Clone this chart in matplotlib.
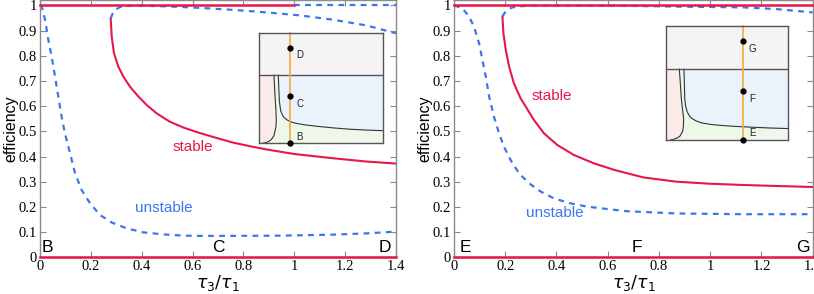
import numpy as np
import matplotlib
matplotlib.use("Agg")
import matplotlib.pyplot as plt

# ---- datos ----
# panel izquierdo (B, C, D)
stable_L_x = [0.278, 0.282, 0.291, 0.308, 0.328, 0.354, 0.387, 0.419, 0.459, 0.511, 0.564, 0.629,
              0.70, 0.76, 0.83, 0.891, 1.0, 1.153, 1.285, 1.4]
stable_L_y = [0.948, 0.876, 0.81, 0.757, 0.717, 0.677, 0.638, 0.605, 0.571, 0.538, 0.515, 0.493,
              0.472, 0.455, 0.44, 0.428, 0.41, 0.393, 0.38, 0.372]
unst_lo_L_x = [0.0, 0.007, 0.02, 0.033, 0.046, 0.059, 0.072, 0.085, 0.098, 0.118, 0.138, 0.164, 0.197,
               0.236, 0.282, 0.341, 0.406, 0.485, 0.564, 0.629, 0.76, 0.957, 1.153, 1.285, 1.4]
unst_lo_L_y = [1.0, 0.995, 0.942, 0.862, 0.796, 0.717, 0.638, 0.558, 0.492, 0.413, 0.333, 0.267, 0.214,
               0.168, 0.138, 0.115, 0.099, 0.091, 0.086, 0.085, 0.085, 0.086, 0.09, 0.095, 0.102]
unst_hi_L_x = [0.278, 0.285, 0.295, 0.31, 0.328, 0.393, 0.524, 0.629, 0.76, 0.891, 1.022, 1.153, 1.285, 1.4]
unst_hi_L_y = [0.948, 0.966, 0.981, 0.991, 0.997, 0.999, 0.995, 0.99, 0.982, 0.972, 0.96, 0.943, 0.92, 0.889]
unst_top_L_x = [1.0, 1.4]
unst_top_L_y = [1.0, 1.0]
stable_top_L_x = [0.0, 1.0]

# panel derecho (E, F, G)
stable_R_x = [0.189, 0.193, 0.202, 0.215, 0.234, 0.26, 0.28, 0.312, 0.351, 0.403, 0.468, 0.546, 0.625,
              0.739, 0.869, 0.999, 1.129, 1.259, 1.4]
stable_R_y = [0.955, 0.889, 0.823, 0.757, 0.69, 0.631, 0.598, 0.545, 0.492, 0.446, 0.406, 0.373, 0.347,
              0.317, 0.3, 0.292, 0.287, 0.283, 0.279]
unst_lo_R_x = [0.0, 0.033, 0.059, 0.078, 0.098, 0.111, 0.124, 0.137, 0.156, 0.176, 0.195, 0.221, 0.254,
               0.293, 0.338, 0.39, 0.455, 0.52, 0.611, 0.674, 0.869, 1.129, 1.4]
unst_lo_R_y = [1.0, 0.988, 0.955, 0.915, 0.849, 0.783, 0.717, 0.638, 0.558, 0.492, 0.439, 0.386, 0.333,
               0.294, 0.261, 0.234, 0.214, 0.201, 0.19, 0.183, 0.174, 0.171, 0.171]
unst_hi_R_x = [0.189, 0.195, 0.202, 0.214, 0.228, 0.286, 0.39, 0.611, 0.869, 1.129, 1.259, 1.4]
unst_hi_R_y = [0.955, 0.966, 0.975, 0.985, 0.992, 0.999, 0.999, 0.999, 0.995, 0.992, 0.985, 0.972]
stable_top_R_x = [0.0, 1.4]

# insets: fronteras de las regiones (coordenadas del inset, 0..1)
divider_y = 0.62
pg_L_x = [0.121, 0.13, 0.137, 0.14, 0.136, 0.121, 0.1, 0.081, 0.055, 0.027]
pg_L_y = [0.62, 0.42, 0.297, 0.2, 0.145, 0.07, 0.035, 0.018, 0.005, 0.0]
gb_L_x = [0.156, 0.16, 0.165, 0.175, 0.188, 0.202, 0.23, 0.27, 0.32, 0.377, 0.466, 0.6, 0.736, 0.87, 1.0]
gb_L_y = [0.62, 0.5, 0.38, 0.297, 0.26, 0.236, 0.21, 0.19, 0.177, 0.167, 0.155, 0.14, 0.128, 0.12, 0.115]
pg_R_x = [0.109, 0.117, 0.125, 0.136, 0.144, 0.143, 0.136, 0.115, 0.09, 0.06, 0.035]
pg_R_y = [0.62, 0.5, 0.367, 0.26, 0.192, 0.13, 0.076, 0.035, 0.017, 0.005, 0.0]
gb_R_x = [0.147, 0.15, 0.153, 0.16, 0.172, 0.19, 0.213, 0.25, 0.294, 0.36, 0.444, 0.55, 0.7, 0.85, 1.0]
gb_R_y = [0.62, 0.5, 0.367, 0.3, 0.25, 0.212, 0.187, 0.165, 0.149, 0.137, 0.128, 0.12, 0.112, 0.105, 0.1]
cut_L_x = 0.25
cut_R_x = 0.627
dots_L = {'D': 0.87, 'C': 0.43, 'B': 0.0}
dots_R = {'G': 0.866, 'F': 0.426, 'E': 0.0}

letters_L = {'B': 0.03, 'C': 0.70, 'D': 1.357}
letters_R = {'E': 0.043, 'F': 0.713, 'G': 1.363}

RED = '#e8174a'
BLUE = '#3a76ee'
ORANGE = '#f6a940'
SPINE = '#8a8a8a'


def panel(ax, stx, sty, lox, loy, hix, hiy, top_x, extra, letters, st_pos, un_pos, xmax):
    ax.plot(top_x, [1.0, 1.0], color=RED, lw=1.8, clip_on=False, zorder=3)
    ax.plot([0, 1.4], [0, 0], color=RED, lw=1.8, clip_on=False, zorder=3)
    ax.plot(stx, sty, color=RED, lw=1.5)
    ds = (0, (2.6, 2.4))
    ax.plot(lox, loy, color=BLUE, lw=1.6, ls=ds)
    ax.plot(hix, hiy, color=BLUE, lw=1.6, ls=ds)
    if extra is not None:
        ax.plot(extra[0], extra[1], color=BLUE, lw=1.6, ls=ds, clip_on=False)
    ax.set_xlim(0, xmax)
    ax.set_ylim(0, 1.02)
    ax.set_xticks(np.arange(0, 1.41, 0.2))
    ax.set_xticklabels(['0', '0.2', '0.4', '0.6', '0.8', '1', '1.2', '1.4'])
    ax.set_yticks(np.arange(0, 1.01, 0.1))
    ax.set_yticklabels(['0', '0.1', '0.2', '0.3', '0.4', '0.5', '0.6', '0.7', '0.8', '0.9', '1'])
    ax.tick_params(direction='in', top=True, right=True, length=4, width=0.8, color=SPINE,
                   labelsize=10.5, pad=2, labelfontfamily='Liberation Serif')
    for s in ax.spines.values():
        s.set_color(SPINE)
        s.set_linewidth(1.0)
    ax.set_ylabel('efficiency', family='Liberation Sans', fontsize=11.5, labelpad=0)
    ax.set_xlabel(r'$\tau_3/\tau_1$', fontsize=12.5, labelpad=0)
    for k, xv in letters.items():
        ax.text(xv, 0.04, k, family='Liberation Sans', fontsize=12.5, ha='center', va='center')
    ax.text(st_pos[0], st_pos[1], 'stable', color=RED, family='Liberation Sans', fontsize=11,
            ha='center', va='center')
    ax.text(un_pos[0], un_pos[1], 'unstable', color=BLUE, family='Liberation Sans', fontsize=11,
            ha='center', va='center')


def inset(fig, rect, pgx, pgy, gbx, gby, cut_x, dots):
    ax = fig.add_axes(rect)
    ax.set_xlim(0, 1)
    ax.set_ylim(0, 1)
    ax.fill_between([0, 1], divider_y, 1, color='#f4f4f4', lw=0)
    ax.fill_between([0, 1], 0, divider_y, color='#eaf2fb', lw=0)
    # verde: entre la frontera gb y el fondo
    gx = np.array(gbx)
    gy = np.array(gby)
    ax.fill(np.r_[gx, 1.0, 0.0, 0.0], np.r_[gy, 0.0, 0.0, divider_y], color='#eef8ea', lw=0)
    px = np.array(pgx)
    py = np.array(pgy)
    ax.fill(np.r_[px, 0.0, 0.0], np.r_[py, 0.0, divider_y], color='#fbecea', lw=0)
    ax.plot(pgx, pgy, color='#333333', lw=0.8)
    ax.plot(gbx, gby, color='#333333', lw=0.8)
    ax.axhline(divider_y, color='#555555', lw=1.0)
    ax.plot([cut_x, cut_x], [0, 1], color=ORANGE, lw=1.2, clip_on=False)
    for k, yv in dots.items():
        ax.plot(cut_x, yv, 'o', color='black', ms=3.5, clip_on=False, zorder=5)
        ax.text(cut_x + 0.05, yv - 0.07 if yv > 0 else yv + 0.06, k, fontsize=7,
                family='Liberation Sans', color='#222222', ha='left', va='center')
    ax.set_xticks([])
    ax.set_yticks([])
    for s in ax.spines.values():
        s.set_color('#555555')
        s.set_linewidth(1.0)
    return ax


fig = plt.figure(figsize=(8.14, 2.94), dpi=100)
H = 294.0
W = 814.0
axL = fig.add_axes([40 / W, 1 - 257.3 / H, 356 / W, 257 / H])
axR = fig.add_axes([454 / W, 1 - 257.3 / H, 358.7 / W, 257 / H])

panel(axL, stable_L_x, stable_L_y, unst_lo_L_x, unst_lo_L_y, unst_hi_L_x, unst_hi_L_y,
      stable_top_L_x, (unst_top_L_x, unst_top_L_y), letters_L, (0.60, 0.438), (0.485, 0.195), 1.4)
panel(axR, stable_R_x, stable_R_y, unst_lo_R_x, unst_lo_R_y, unst_hi_R_x, unst_hi_R_y,
      stable_top_R_x, None, letters_R, (0.381, 0.64), (0.394, 0.175), 1.4)

inset(fig, [259 / W, 1 - 143.3 / H, 123.7 / W, 110 / H], pg_L_x, pg_L_y, gb_L_x, gb_L_y, cut_L_x, dots_L)
inset(fig, [666 / W, 1 - 140 / H, 122.3 / W, 114.3 / H], pg_R_x, pg_R_y, gb_R_x, gb_R_y, cut_R_x, dots_R)

fig.savefig('out.png', dpi=100)
